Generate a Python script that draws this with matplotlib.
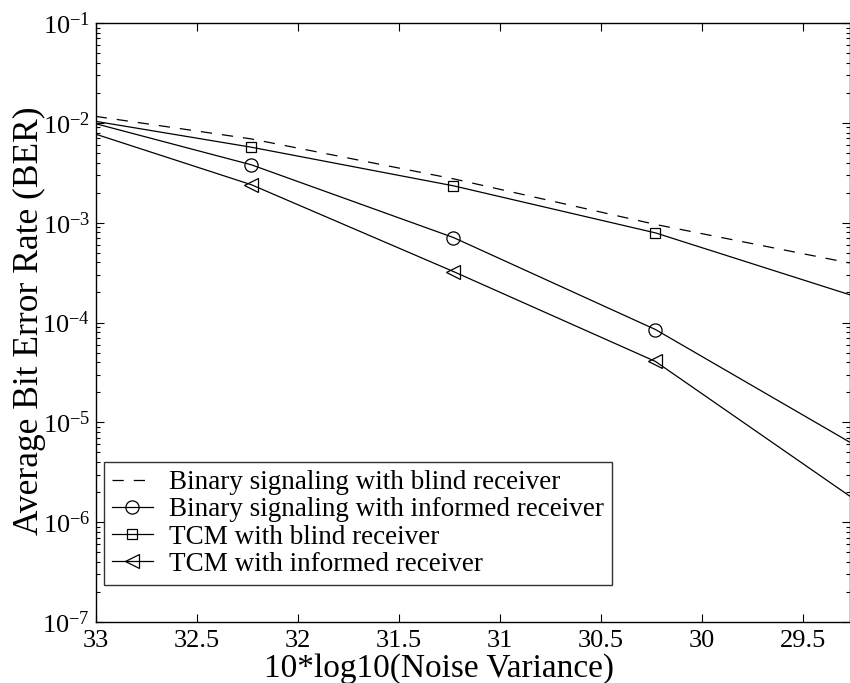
import matplotlib
matplotlib.use("Agg")
import matplotlib.pyplot as plt
import numpy as np
from matplotlib.ticker import LogLocator, FixedLocator, FixedFormatter, NullFormatter

plt.rcParams['font.family'] = ['Liberation Serif', 'DejaVu Serif']
plt.rcParams['mathtext.fontset'] = 'custom'
plt.rcParams['mathtext.rm'] = 'Liberation Serif'
plt.rcParams['mathtext.it'] = 'Liberation Serif:italic'

# x values: 10*log10(Noise Variance)
x_marked = [33.0, 32.23, 31.23, 30.23, 29.27]
x_dashed = [33.0, 32.23, 31.23, 30.23, 29.27]

ber_binary_blind = [1.16e-2, 6.9e-3, 2.75e-3, 9.6e-4, 3.95e-4]
ber_binary_informed = [9.8e-3, 3.8e-3, 7.1e-4, 8.5e-5, 6.35e-6]
ber_tcm_blind = [1.035e-2, 5.7e-3, 2.34e-3, 7.9e-4, 1.9e-4]
ber_tcm_informed = [7.7e-3, 2.4e-3, 3.24e-4, 4.07e-5, 1.83e-6]

labels = ["Binary signaling with blind receiver",
          "Binary signaling with informed receiver",
          "TCM with blind receiver",
          "TCM with informed receiver"]

xticks = [33, 32.5, 32, 31.5, 31, 30.5, 30, 29.5]
xticklabels = ["33", "32.5", "32", "31.5", "31", "30.5", "30", "29.5"]

fig = plt.figure(figsize=(8.5, 6.83), dpi=100)
ax = fig.add_axes([95.7/850, 1 - 622/683, (849.5 - 95.7)/850, (622 - 23)/683])

lw = 0.9
ax.plot(x_dashed, ber_binary_blind, color='black', lw=lw, dashes=(9, 8), label=labels[0])
ax.plot(x_marked, ber_binary_informed, color='black', lw=lw, marker='o', ms=9.5,
        mfc='none', mec='black', mew=0.9, markevery=[1, 2, 3], label=labels[1])
ax.plot(x_marked, ber_tcm_blind, color='black', lw=lw, marker='s', ms=7.5,
        mfc='none', mec='black', mew=0.9, markevery=[1, 2, 3], label=labels[2])
ax.plot(x_marked, ber_tcm_informed, color='black', lw=lw, marker='<', ms=10,
        mfc='none', mec='black', mew=0.9, markevery=[1, 2, 3], label=labels[3])

ax.set_yscale('log')
ax.set_ylim(1e-7, 1e-1)
ax.set_xlim(33, 29.27)
ax.xaxis.set_major_locator(FixedLocator(xticks))
ax.xaxis.set_major_formatter(FixedFormatter(xticklabels))
ax.yaxis.set_major_locator(LogLocator(base=10, numticks=10))
ax.yaxis.set_minor_locator(LogLocator(base=10, subs=np.arange(2, 10), numticks=20))
ax.yaxis.set_minor_formatter(NullFormatter())

ax.tick_params(which='both', direction='in', top=True, right=True, labelsize=19,
               width=0.8, color='black')
ax.tick_params(which='major', length=6)
ax.tick_params(which='minor', length=3)
ax.tick_params(axis='x', pad=6)
ax.tick_params(axis='y', pad=4)
for s in ax.spines.values():
    s.set_linewidth(1.0)
    s.set_color('black')

ax.set_xlabel("10*log10(Noise Variance)", fontsize=24)
ax.xaxis.set_label_coords(0.455, -0.077, transform=ax.transAxes)
ax.xaxis.label.set_va('center')
ax.set_ylabel("Average Bit Error Rate (BER)", fontsize=25.5)
ax.yaxis.set_label_coords(-0.088, 0.503, transform=ax.transAxes)
ax.yaxis.label.set_va('center')

leg = ax.legend(loc='lower left', bbox_to_anchor=(0.011, 0.062), borderaxespad=0,
                fontsize=19.5, frameon=True, fancybox=False, edgecolor='black',
                handlelength=1.5, handletextpad=0.6, labelspacing=0.08,
                borderpad=0.3)
leg.get_frame().set_linewidth(1.0)

fig.savefig("out.png", dpi=100)
